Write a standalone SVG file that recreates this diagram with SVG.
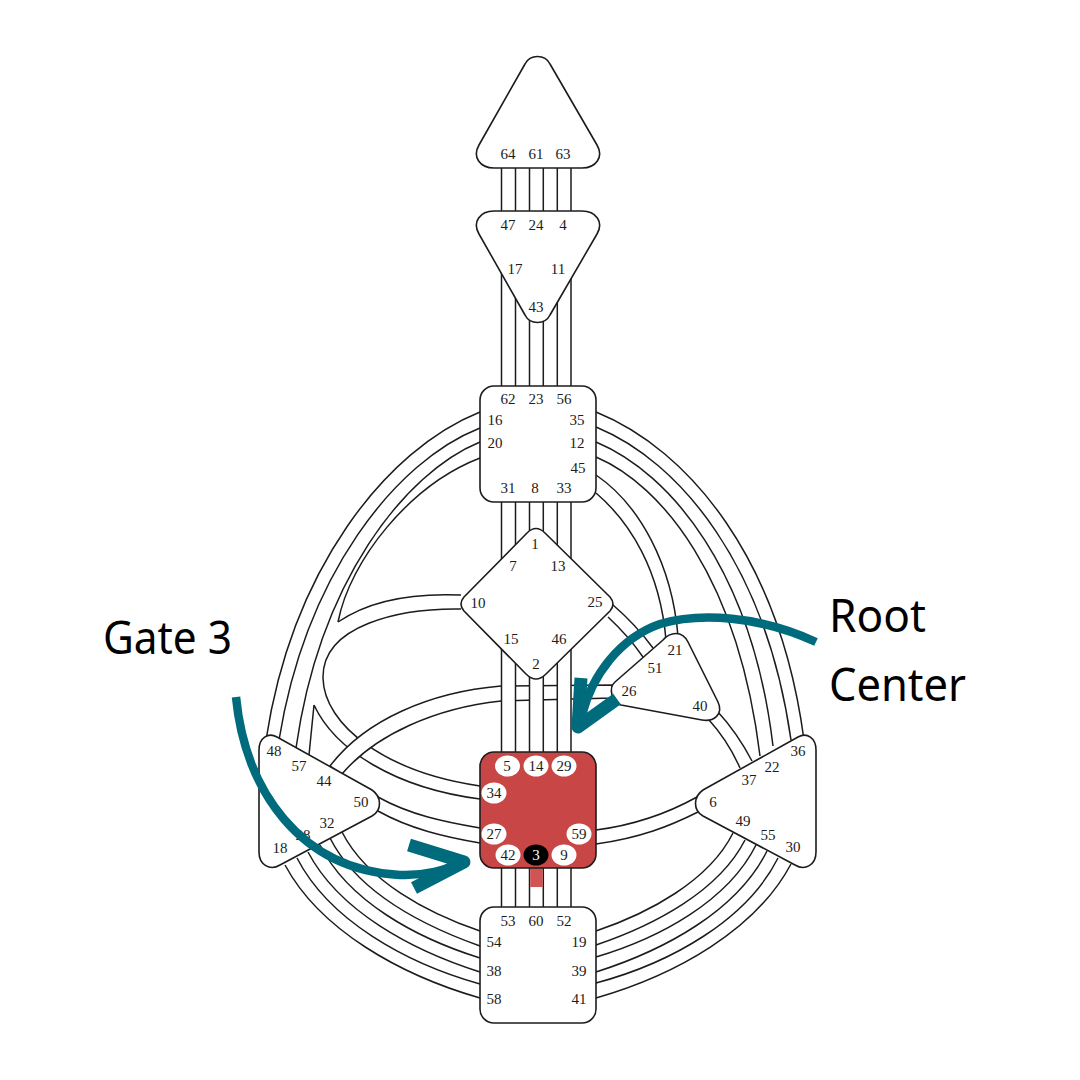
<svg xmlns="http://www.w3.org/2000/svg" width="1080" height="1080" viewBox="0 0 1080 1080">
<style>
.c{fill:none;stroke:#1c1c1c;stroke-width:1.5}
.b{fill:#fff;stroke:#1c1c1c;stroke-width:1.5}
.f{fill:#fff}
.n{fill:#fff;stroke:#1c1c1c;stroke-width:1.6}
.r{fill:#c94646;stroke:#1c1c1c;stroke-width:1.6}
.t{font-family:"Liberation Serif",serif;font-size:15px;fill:#1c1c1c;text-anchor:middle}
.w{fill:#fff}
.l{font-family:"Noto Sans",sans-serif;font-size:45px;fill:#000}
.a{fill:none;stroke:#006b7d;stroke-width:8.500}
.h{fill:none;stroke:#006b7d;stroke-width:13;stroke-linejoin:round}
</style>
<rect width="1080" height="1080" fill="#fff"/>
<g id="connectors">
<path class="c" d="M480,412C385,450 292,570 266,740M480,428C394.700,461.500 305.800,575.700 279,740M480,442C404.400,473 319.700,581.500 296,748M480,458C410,485 350,560 338,622"/>
<path class="f" d="M461,595C415,593 370,600 338,622L314,705C335,750 395,788 480,799V786C385,772 324,725 323,678C322,625 400,608 461,609Z"/>
<path class="c" d="M461,595C415,593 370,600 338,622M461,609C400,608 322,625 323,678C324,725 385,772 480,786M314,705C335,750 395,788 480,799M309,755L314,705"/>
<path class="c" d="M596,412C690,450 780,560 804,740M596,427C680.500,461.700 766,565.500 791,740M596,442C671,473.400 752,571 773,746M596,457C661.600,485 738,577 760,756M596,475C640,505 672,565 678,636M596,493C630,522 660,570 666,640"/>
<path class="b" d="M330,766C365,720 430,692 501,686L612,685L612,698L501,701C435,708 375,735 342,774Z"/>
<path class="c" d="M613,605C628,618 642,633 653,648M608,617C622,630 634,644 643,657M718,712C730,725 742,742 752,761M709,720C720,732 732,750 740,768"/>
<path class="c" d="M378,797C410,815 445,822 480,828M378,811C410,829 445,837 480,843M596,830C635,825 670,812 697,797M596,844C640,838 670,826 698,812"/>
<path class="c" d="M285,865C320,930 400,975 480,998M297,858C329,920 405,963 480,984M308,852C339,911 411,950 480,972M320,845C348,901 416,938 480,958M330,838C357,891 421,925 480,946M342,832C367,881 427,913 480,931"/>
<path class="c" d="M791,864C756,930 676,975 596,998M778,858C747,920 671,963 596,983M767,851C737,911 665,950 596,972M756,845C728,901 660,938 596,957M745,840C719,891 655,925 596,945M733,833C709,881 649,913 596,931"/>
<rect class="w" x="501.500" y="680" width="14" height="24"/>
<rect class="w" x="529.500" y="680" width="14" height="24"/>
<rect class="w" x="557.300" y="680" width="14" height="24"/>
<path class="c" d="M501.500,168V907M515.500,168V907M529.500,168V907M543.300,168V907M557.300,168V907M571,168V907"/>
<rect x="530.200" y="868" width="12.500" height="19" fill="#d05454"/>
</g>
<g id="head-center"><path class="n" d="M525,64C530,54 545,54 550,64L597,145C604,157 596,168 582,168L494,168C480,168 472,157 479,145Z"/>
<text class="t" x="508" y="159">64</text><text class="t" x="536" y="159">61</text><text class="t" x="563" y="159">63</text></g>
<g id="ajna-center"><path class="n" d="M525,315C530,325 545,325 550,315L597,234C604,222 596,211 582,211L494,211C480,211 472,222 479,234Z"/>
<text class="t" x="508" y="230">47</text><text class="t" x="536" y="230">24</text><text class="t" x="563" y="230">4</text><text class="t" x="515" y="274">17</text><text class="t" x="558" y="274">11</text><text class="t" x="536" y="312">43</text></g>
<g id="throat-center"><rect class="n" x="480" y="386" width="116" height="116" rx="14"/>
<text class="t" x="508" y="404">62</text><text class="t" x="536" y="404">23</text><text class="t" x="564" y="404">56</text><text class="t" x="495" y="425">16</text><text class="t" x="577" y="425">35</text><text class="t" x="495" y="448">20</text><text class="t" x="577" y="448">12</text><text class="t" x="578" y="473">45</text><text class="t" x="508" y="493">31</text><text class="t" x="535" y="493">8</text><text class="t" x="564" y="493">33</text></g>
<g id="g-center"><path class="n" d="M527,533Q536,524 545,533L610,597Q616,604 610,611L546,674Q536,684 526,674L464,611Q458,604 464,597Z"/>
<text class="t" x="535" y="549">1</text><text class="t" x="513" y="571">7</text><text class="t" x="558" y="571">13</text><text class="t" x="478" y="608">10</text><text class="t" x="595" y="607">25</text><text class="t" x="511" y="644">15</text><text class="t" x="559" y="644">46</text><text class="t" x="536" y="669">2</text></g>
<g id="heart-center"><path class="n" d="M663,640C670,632 682,630 688,642L718,702C724,715 713,722 702,720L621,705C612,703 608,688 615,682Z"/>
<text class="t" x="675" y="655">21</text><text class="t" x="655" y="673">51</text><text class="t" x="629" y="696">26</text><text class="t" x="700" y="711">40</text></g>
<g id="spleen-center"><path class="n" d="M259,750C259,738 268,732 277,737L372,790C382,797 382,810 372,816L280,865C270,871 259,865 259,852Z"/>
<text class="t" x="274" y="756">48</text><text class="t" x="299" y="771">57</text><text class="t" x="324" y="786">44</text><text class="t" x="361" y="807">50</text><text class="t" x="327" y="828">32</text><text class="t" x="303" y="840">28</text><text class="t" x="280" y="853">18</text></g>
<g id="solar-center"><path class="n" d="M816,750C816,738 807,732 798,737L703,790C693,797 693,810 703,816L795,865C805,871 816,865 816,852Z"/>
<text class="t" x="798" y="756">36</text><text class="t" x="772" y="772">22</text><text class="t" x="749" y="785">37</text><text class="t" x="713" y="807">6</text><text class="t" x="743" y="826">49</text><text class="t" x="768" y="840">55</text><text class="t" x="793" y="852">30</text></g>
<g id="root-center"><rect class="r" x="480" y="752" width="116" height="116" rx="14"/>
<ellipse class="w" cx="507.500" cy="766" rx="12.500" ry="10.500"/><ellipse class="w" cx="536" cy="766" rx="12.500" ry="10.500"/><ellipse class="w" cx="564" cy="766" rx="12.500" ry="10.500"/><ellipse class="w" cx="494" cy="793" rx="12.500" ry="10.500"/><ellipse class="w" cx="494" cy="834" rx="12.500" ry="10.500"/><ellipse class="w" cx="579" cy="834" rx="12.500" ry="10.500"/><ellipse class="w" cx="508" cy="855" rx="12.500" ry="10.500"/><ellipse cx="536" cy="855" rx="12.500" ry="10.500" fill="#000"/><ellipse class="w" cx="564" cy="855" rx="12.500" ry="10.500"/>
<text class="t" x="507" y="771">5</text><text class="t" x="536" y="771">14</text><text class="t" x="564" y="771">29</text><text class="t" x="494" y="798">34</text><text class="t" x="494" y="839">27</text><text class="t" x="579" y="839">59</text><text class="t" x="508" y="860">42</text><text class="t" x="536" y="860" style="fill:#fff">3</text><text class="t" x="564" y="860">9</text></g>
<g id="sacral-center"><rect class="n" x="480" y="907" width="116" height="116" rx="14"/>
<text class="t" x="508" y="926">53</text><text class="t" x="536" y="926">60</text><text class="t" x="564" y="926">52</text><text class="t" x="494" y="947">54</text><text class="t" x="579" y="947">19</text><text class="t" x="494" y="976">38</text><text class="t" x="579" y="976">39</text><text class="t" x="494" y="1004">58</text><text class="t" x="579" y="1004">41</text></g>
<g id="annotations">
<path class="a" d="M236,697C245,790 300,870 400,875C425,876 445,870 465,862"/>
<path class="h" d="M409,845L464,862L414,888"/>
<path class="a" d="M816,642C760,616 700,612 660,624C620,638 592,675 582,715"/>
<path class="h" d="M581,678L578,727L617,699"/>
<text class="l" x="103" y="654" textLength="129" lengthAdjust="spacingAndGlyphs">Gate 3</text>
<text class="l" x="829" y="632" textLength="97" lengthAdjust="spacingAndGlyphs">Root</text>
<text class="l" x="829" y="701" textLength="137" lengthAdjust="spacingAndGlyphs">Center</text>
</g>
</svg>
